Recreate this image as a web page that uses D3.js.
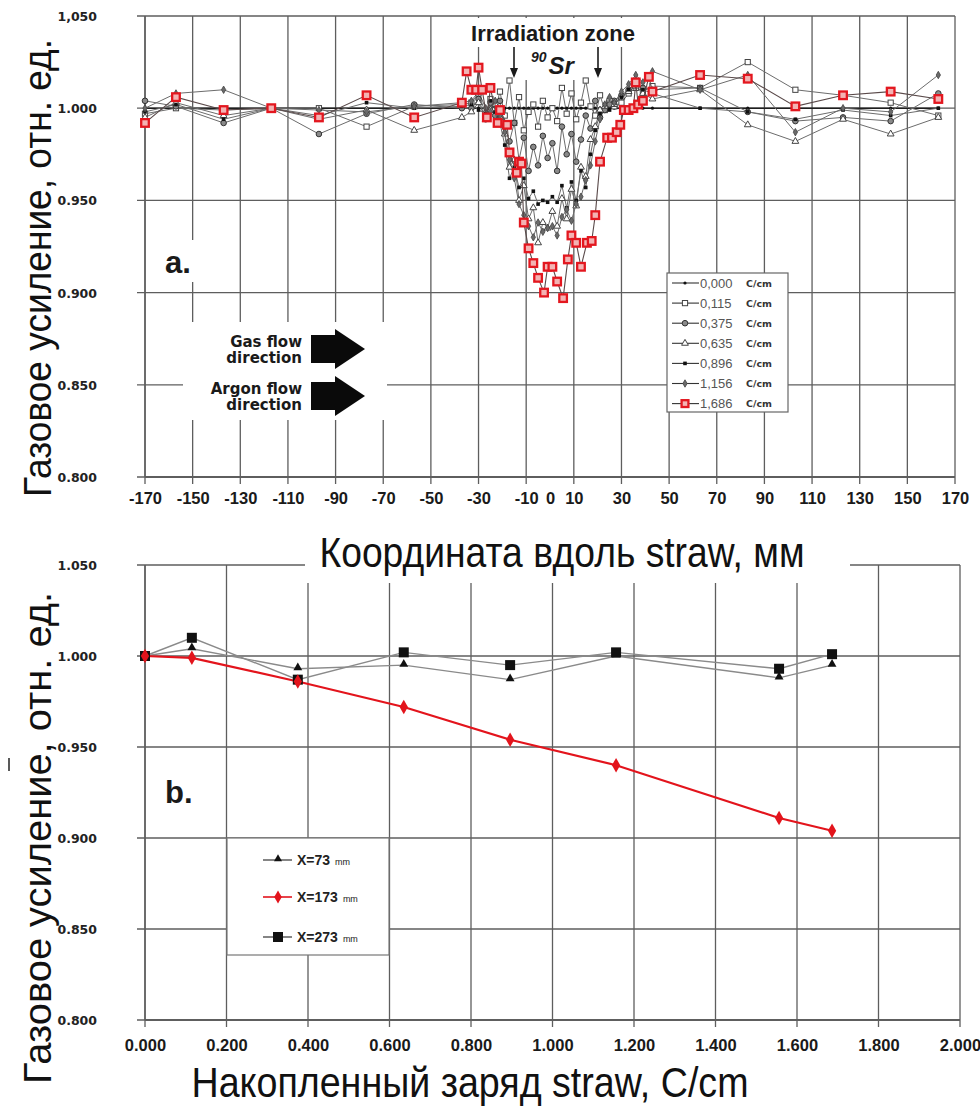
<!DOCTYPE html>
<html>
<head>
<meta charset="utf-8">
<script src="https://cdn.jsdelivr.net/npm/d3@7"></script>
<style>
  body { margin: 0; background: #fff; }
  svg { display: block; }
</style>
</head>
<body>
<svg id="chart" width="980" height="1110"></svg>
<script>
// ---------- Panel a: gain profile along the straw ----------
const posTicks  = [-170,-150,-130,-110,-90,-70,-50,-30,-10,0,10,30,50,70,90,110,130,150,170];
const posLabels = ["-170","-150","-130","-110","-90","-70","-50","-30","-10","0","10","30","50","70","90","110","130","150","170"];
const posGrid   = [-170,-150,-130,-110,-90,-70,-50,-30,-10,10,30,50,70,90,110,130,150,170];
const gainTicks   = [0.800,0.850,0.900,0.950,1.000,1.050];
const gainLabelsA = ["0.800","0.850","0.900","0.950","1.000","1,050"];
const gainLabelsB = ["0.800","0.850","0.900","0.950","1.000","1.050"];

// Accumulated charge for each scan, C/cm
const chargeLabels = ["0,000","0,115","0,375","0,635","0,896","1,156","1,686"];

// Scan positions (mm) for the scans at 0.000 ... 1.156 C/cm
const posGray = [-170,-157,-137,-117,-97,-77,-57,-37,
  -33,-30,-27,-25,-23,-21,-19,-17,-15,-13,-11,-9,-7,-5,-3,-1,1,3,5,7,9,11,13,15,17,19,21,23,25,27,30,33,36,39,
  43,63,83,103,123,143,163];

const gain000 = [1.000,1.000,1.000,1.000,1.000,1.000,1.000,1.000,
  1.000,1.000,1.000,1.000,1.000,1.000,1.000,1.000,1.000,1.000,1.000,1.000,1.000,1.000,1.000,1.000,1.000,1.000,1.000,1.000,1.000,1.000,1.000,1.000,1.000,1.000,1.000,1.000,1.000,1.000,1.000,1.000,1.000,1.000,
  1.000,1.000,1.000,1.000,1.000,1.000,1.000];
const gain115 = [0.997,1.000,0.999,1.000,1.000,0.990,1.001,1.002,
  1.003,1.008,0.997,1.005,0.999,1.009,0.996,1.015,0.992,1.006,0.988,0.998,1.002,0.990,1.004,0.995,1.000,0.993,1.011,0.997,1.008,0.994,1.003,1.015,1.001,0.996,1.007,0.999,1.004,1.001,1.003,1.008,1.011,1.009,
  1.012,1.011,1.025,1.010,1.007,1.003,0.996];
const gain375 = [1.004,1.001,0.992,1.000,0.986,0.997,1.002,1.000,
  1.000,1.005,0.994,1.003,0.996,1.004,0.990,0.982,0.992,0.972,0.984,0.966,0.979,0.969,0.985,0.973,0.981,0.966,0.990,0.975,0.986,0.971,0.983,0.996,0.989,1.004,0.995,0.999,1.002,1.004,1.007,1.010,1.013,1.011,
  1.010,1.011,0.998,0.993,0.995,0.993,1.008];
const gain635 = [0.995,1.003,0.996,1.000,0.994,0.999,0.988,0.995,
  0.998,1.003,0.994,0.999,1.002,0.995,0.986,0.968,0.972,0.950,0.958,0.940,0.946,0.927,0.938,0.935,0.944,0.936,0.951,0.940,0.956,0.947,0.968,0.963,0.983,0.990,0.999,1.001,1.005,1.002,1.006,1.009,1.012,1.008,
  1.005,1.010,0.991,0.982,0.994,0.986,0.995];
const gain896 = [0.998,1.002,0.994,1.000,0.996,1.003,1.000,1.001,
  1.002,0.999,0.997,1.004,0.998,0.992,0.980,0.962,0.968,0.957,0.962,0.951,0.955,0.948,0.950,0.949,0.952,0.949,0.958,0.946,0.960,0.950,0.966,0.957,0.975,0.988,0.997,1.002,0.999,1.003,1.006,1.010,1.014,1.010,
  1.008,1.000,0.998,0.994,0.999,0.996,1.000];
const gain1156 = [1.000,1.008,1.010,1.000,0.999,0.998,1.001,1.003,
  1.004,1.009,1.000,0.998,1.004,0.996,0.987,0.972,0.962,0.948,0.942,0.936,0.930,0.938,0.933,0.935,0.936,0.931,0.941,0.945,0.939,0.948,0.952,0.961,0.969,0.982,0.994,1.002,1.006,1.003,1.009,1.013,1.018,1.014,
  1.020,1.010,1.018,0.987,1.000,0.998,1.018];

// Scan positions (mm) and gain for the scan at 1.686 C/cm
const posRed = [-170,-157,-137,-117,-97,-77,-57,-37,
  -35,-33,-31,-30,-28.5,-26.5,-25,-22,-21,-18,-17,-14,-13,-12,-11,-9,-7,-5,-2.5,-1,1,3,5.5,7.5,9,11,13,15.5,17.5,19,21,24,26,28,29.5,31,33,35,36,37,39,41.5,
  43,63,83,103,123,143,163];
const gain1686 = [0.992,1.006,0.999,1.000,0.995,1.007,0.995,1.003,
  1.020,1.010,1.010,1.022,1.010,0.995,1.011,0.992,0.999,0.991,0.976,0.965,0.971,0.970,0.938,0.924,0.916,0.908,0.900,0.914,0.914,0.906,0.897,0.918,0.931,0.927,0.914,0.927,0.928,0.942,0.971,0.984,0.984,0.987,0.991,0.999,0.999,1.000,1.014,1.002,1.004,1.017,
  1.009,1.018,1.016,1.001,1.007,1.009,1.005];

// ---------- Panel b: gain vs accumulated charge ----------
const chargeTicks  = [0,0.2,0.4,0.6,0.8,1.0,1.2,1.4,1.6,1.8,2.0];
const chargeTickLabels = ["0.000","0.200","0.400","0.600","0.800","1.000","1.200","1.400","1.600","1.800","2.000"];
const charge = [0, 0.115, 0.375, 0.635, 0.896, 1.156, 1.556, 1.686];
const gainX73  = [1.000, 1.004, 0.993, 0.995, 0.987, 1.000, 0.988, 0.995];
const gainX173 = [1.000, 0.999, 0.986, 0.972, 0.954, 0.940, 0.911, 0.904];
const gainX273 = [1.000, 1.010, 0.987, 1.002, 0.995, 1.002, 0.993, 1.001];
const pointLabels = ["X=73", "X=173", "X=273"];

// ---------- drawing ----------
const svg = d3.select("#chart");
const SANS = "'Liberation Sans', Arial, Helvetica, sans-serif";
const NARROW = "'Liberation Sans Narrow', 'Arial Narrow', 'Liberation Sans', Arial, sans-serif";
const WIDE = "'DejaVu Sans', Verdana, sans-serif";
const GRID = "#5e5e5e";

const xA = d3.scaleLinear().domain([-170, 170]).range([145, 955]);
const yA = d3.scaleLinear().domain([0.8, 1.05]).range([477, 16]);
const xB = d3.scaleLinear().domain([0, 2]).range([145, 960]);
const yB = d3.scaleLinear().domain([0.8, 1.05]).range([1020, 565]);

function drawGrid(g, x, y, xs, ys, x0, x1) {
  g.append("g").selectAll("line").data(xs).join("line")
    .attr("x1", d => x(d)).attr("x2", d => x(d))
    .attr("y1", y(1.05)).attr("y2", y(0.8) + 7)
    .attr("stroke", GRID).attr("stroke-width", 1.3);
  g.append("g").selectAll("line").data(ys).join("line")
    .attr("x1", x(x0) - 8).attr("x2", x(x1))
    .attr("y1", d => y(d)).attr("y2", d => y(d))
    .attr("stroke", GRID).attr("stroke-width", 1.3);
  g.append("line").attr("x1", x(x0)).attr("x2", x(x0))
    .attr("y1", y(1.05)).attr("y2", y(0.8))
    .attr("stroke", GRID).attr("stroke-width", 1.5);
  g.append("line").attr("x1", x(x0)).attr("x2", x(x1))
    .attr("y1", y(0.8)).attr("y2", y(0.8))
    .attr("stroke", GRID).attr("stroke-width", 2);
}

function yAxis(g, y, labels) {
  const ax = g.append("g").attr("transform", "translate(145,0)")
    .call(d3.axisLeft(y).tickValues(gainTicks).tickFormat((d, i) => labels[i]).tickSize(0).tickPadding(48));
  ax.select(".domain").remove();
  ax.selectAll("text").style("font-family", WIDE).style("font-weight", "bold")
    .style("font-size", "12.5px").attr("fill", "#222").attr("dy", "0.36em");
}

// ===== Panel a =====
const gA = svg.append("g");
drawGrid(gA, xA, yA, posGrid, gainTicks, -170, 170);

// white backgrounds of the annotation boxes
gA.append("rect").attr("x", 455).attr("y", 18).attr("width", 200).attr("height", 29).attr("fill", "#fff");
gA.append("rect").attr("x", 500).attr("y", 40).attr("width", 104).attr("height", 40).attr("fill", "#fff");
gA.append("rect").attr("x", 183).attr("y", 322).attr("width", 204).attr("height", 98).attr("fill", "#fff");
gA.append("rect").attr("x", 163).attr("y", 240).attr("width", 52).attr("height", 42).attr("fill", "#fff");

yAxis(gA, yA, gainLabelsA);
const axA = gA.append("g").attr("transform", "translate(0,477)")
  .call(d3.axisBottom(xA).tickValues(posTicks).tickFormat((d, i) => posLabels[i]).tickSize(0).tickPadding(15));
axA.select(".domain").remove();
axA.selectAll("text").style("font-family", SANS).style("font-weight", "bold")
  .style("font-size", "16.5px").attr("fill", "#1a1a1a");

// scans
const grayScans = [
  { v: gain000,  sym: "dot" },
  { v: gain115,  sym: "osquare" },
  { v: gain375,  sym: "circle" },
  { v: gain635,  sym: "triangle" },
  { v: gain896,  sym: "bsquare" },
  { v: gain1156, sym: "diamond" }
];

function marker(sel, sym, size) {
  const s = size || 1;
  if (sym === "dot") {
    sel.append("circle").attr("r", 1.6 * s).attr("fill", "#111");
  } else if (sym === "osquare") {
    sel.append("rect").attr("x", -2.6 * s).attr("y", -2.6 * s).attr("width", 5.2 * s).attr("height", 5.2 * s)
      .attr("fill", "#fff").attr("stroke", "#444").attr("stroke-width", 1);
  } else if (sym === "circle") {
    sel.append("circle").attr("r", 2.8 * s).attr("fill", "#8a8a8a").attr("stroke", "#333").attr("stroke-width", 1);
  } else if (sym === "triangle") {
    sel.append("path").attr("d", d3.symbol(d3.symbolTriangle, 20 * s * s)).attr("fill", "#fff")
      .attr("stroke", "#444").attr("stroke-width", 1);
  } else if (sym === "bsquare") {
    sel.append("rect").attr("x", -1.8 * s).attr("y", -1.8 * s).attr("width", 3.6 * s).attr("height", 3.6 * s).attr("fill", "#111");
  } else if (sym === "diamond") {
    sel.append("path").attr("d", d3.symbol(d3.symbolDiamond, 16 * s * s)).attr("fill", "#6a6a6a")
      .attr("stroke", "#444").attr("stroke-width", 0.8);
  } else if (sym === "red") {
    sel.append("rect").attr("x", -3.8 * s).attr("y", -3.8 * s).attr("width", 7.6 * s).attr("height", 7.6 * s)
      .attr("fill", "#f3b3b3").attr("stroke", "#e3171f").attr("stroke-width", 2.3);
  }
}

const lineA = (xs) => d3.line().x((d, i) => xA(xs[i])).y(d => yA(d));

grayScans.forEach((s, k) => {
  gA.append("path").datum(s.v).attr("d", lineA(posGray))
    .attr("fill", "none").attr("stroke", k === 0 ? "#1e1e1e" : "#6c6c6c")
    .attr("stroke-width", k === 0 ? 1.4 : 1);
});
grayScans.forEach(s => {
  const m = gA.append("g").selectAll("g").data(s.v).join("g")
    .attr("transform", (d, i) => `translate(${xA(posGray[i])},${yA(d)})`);
  marker(m, s.sym);
});
gA.append("path").datum(gain1686).attr("d", lineA(posRed))
  .attr("fill", "none").attr("stroke", "#5a4a4a").attr("stroke-width", 1.1);
marker(gA.append("g").selectAll("g").data(gain1686).join("g")
  .attr("transform", (d, i) => `translate(${xA(posRed[i])},${yA(d)})`), "red");

// legend of panel a
const legA = gA.append("g");
legA.append("rect").attr("x", 667).attr("y", 273).attr("width", 121).attr("height", 139)
  .attr("fill", "#fff").attr("stroke", "#666").attr("stroke-width", 1.2);
const legSyms = ["dot", "osquare", "circle", "triangle", "bsquare", "diamond", "red"];
chargeLabels.forEach((lab, i) => {
  const yy = 283 + i * 20.1;
  legA.append("line").attr("x1", 672).attr("x2", 699).attr("y1", yy).attr("y2", yy)
    .attr("stroke", "#333").attr("stroke-width", 1.1);
  marker(legA.append("g").attr("transform", `translate(685,${yy})`), legSyms[i], i === 6 ? 0.9 : 1);
  legA.append("text").attr("x", 700).attr("y", yy + 4.5).text(lab)
    .style("font-family", NARROW).style("font-size", "13px").attr("fill", "#555");
  legA.append("text").attr("x", 746).attr("y", yy + 3.5).text("C/cm")
    .style("font-family", WIDE).style("font-weight", "bold").style("font-size", "9.5px").attr("fill", "#333");
});

// irradiation zone annotation
gA.append("text").attr("x", 553).attr("y", 41).attr("text-anchor", "middle").text("Irradiation zone")
  .style("font-family", SANS).style("font-weight", "bold").style("font-size", "22px").attr("fill", "#1a1a1a");
[514, 598].forEach(ax => {
  gA.append("line").attr("x1", ax).attr("x2", ax).attr("y1", 47).attr("y2", 74)
    .attr("stroke", "#1a1a1a").attr("stroke-width", 1.6);
  gA.append("path").attr("d", `M${ax - 4},${68} L${ax},${78} L${ax + 4},${68} Z`).attr("fill", "#1a1a1a");
});
const sr = gA.append("text").attr("x", 531).attr("y", 74)
  .style("font-family", SANS).style("font-weight", "bold").style("font-style", "italic").attr("fill", "#1a1a1a");
sr.append("tspan").attr("dy", -12).style("font-size", "14px").text("90");
sr.append("tspan").attr("dy", 12).attr("dx", 2).style("font-size", "24px").text("Sr");

gA.append("text").attr("x", 165).attr("y", 273).text("a.")
  .style("font-family", SANS).style("font-weight", "bold").style("font-size", "31px").attr("fill", "#1a1a1a");

// flow direction notes
const flow = gA.append("g").style("font-family", WIDE).style("font-weight", "bold").style("font-size", "15px").attr("fill", "#1a1a1a");
[["Gas flow", "direction", 349], ["Argon flow", "direction", 396]].forEach(([a, b, cy]) => {
  flow.append("text").attr("x", 302).attr("y", cy - 2).attr("text-anchor", "end").text(a);
  flow.append("text").attr("x", 302).attr("y", cy + 14).attr("text-anchor", "end").text(b);
  flow.append("path")
    .attr("d", `M311,${cy - 14} L335,${cy - 14} L335,${cy - 20} L365,${cy} L335,${cy + 20} L335,${cy + 14} L311,${cy + 14} Z`)
    .attr("fill", "#0a0a0a");
});

// ===== Panel b =====
const gB = svg.append("g");
drawGrid(gB, xB, yB, chargeTicks, gainTicks, 0, 2);
gB.append("rect").attr("x", 305).attr("y", 527).attr("width", 545).attr("height", 56).attr("fill", "#fff");
yAxis(gB, yB, gainLabelsB);
const axB = gB.append("g").attr("transform", "translate(0,1020)")
  .call(d3.axisBottom(xB).tickValues(chargeTicks).tickFormat((d, i) => chargeTickLabels[i]).tickSize(0).tickPadding(19));
axB.select(".domain").remove();
axB.selectAll("text").style("font-family", NARROW).style("font-weight", "bold")
  .style("font-size", "16.5px").attr("fill", "#1a1a1a");

const lineB = d3.line().x((d, i) => xB(charge[i])).y(d => yB(d));
gB.append("path").datum(gainX73).attr("d", lineB).attr("fill", "none").attr("stroke", "#8a8a8a").attr("stroke-width", 1.4);
gB.append("path").datum(gainX273).attr("d", lineB).attr("fill", "none").attr("stroke", "#8a8a8a").attr("stroke-width", 1.4);
gB.append("path").datum(gainX173).attr("d", lineB).attr("fill", "none").attr("stroke", "#e3141c").attr("stroke-width", 2.2);

gB.append("g").selectAll("path").data(gainX73).join("path")
  .attr("transform", (d, i) => `translate(${xB(charge[i])},${yB(d) - 1})`)
  .attr("d", d3.symbol(d3.symbolTriangle, 34)).attr("fill", "#111");
gB.append("g").selectAll("rect").data(gainX273).join("rect")
  .attr("x", (d, i) => xB(charge[i]) - 5).attr("y", d => yB(d) - 5)
  .attr("width", 10).attr("height", 10).attr("fill", "#111");
gB.append("g").selectAll("path").data(gainX173).join("path")
  .attr("transform", (d, i) => `translate(${xB(charge[i])},${yB(d)})`)
  .attr("d", d3.symbol(d3.symbolDiamond, 60)).attr("fill", "#e3141c");

// legend of panel b
const legB = gB.append("g");
legB.append("rect").attr("x", 227).attr("y", 838).attr("width", 162).attr("height", 117)
  .attr("fill", "#fff").attr("stroke", "#777").attr("stroke-width", 1.2);
const legBY = [860, 897, 937];
pointLabels.forEach((lab, i) => {
  const yy = legBY[i];
  legB.append("line").attr("x1", 263).attr("x2", 292).attr("y1", yy).attr("y2", yy)
    .attr("stroke", i === 1 ? "#e3141c" : "#333").attr("stroke-width", i === 1 ? 1.6 : 1.2);
  if (i === 0) legB.append("path").attr("transform", `translate(278,${yy - 1})`).attr("d", d3.symbol(d3.symbolTriangle, 28)).attr("fill", "#111");
  if (i === 1) legB.append("path").attr("transform", `translate(278,${yy})`).attr("d", d3.symbol(d3.symbolDiamond, 50)).attr("fill", "#e3141c");
  if (i === 2) legB.append("rect").attr("x", 273).attr("y", yy - 5).attr("width", 10).attr("height", 10).attr("fill", "#111");
  const t = legB.append("text").attr("x", 297).attr("y", yy + 5).style("font-family", SANS).attr("fill", "#222");
  t.append("tspan").style("font-weight", "bold").style("font-size", "14px").text(lab);
  t.append("tspan").attr("dx", 5).style("font-size", "9px").text("mm");
});

gB.append("text").attr("x", 165).attr("y", 803).text("b.")
  .style("font-family", SANS).style("font-weight", "bold").style("font-size", "31px").attr("fill", "#1a1a1a");

// ===== axis titles =====
const titles = svg.append("g").style("font-family", NARROW).attr("fill", "#111");
titles.append("text").attr("x", 562).attr("y", 567).attr("text-anchor", "middle")
  .attr("textLength", 485).attr("lengthAdjust", "spacingAndGlyphs")
  .style("font-size", "42px").text("Координата вдоль straw, мм");
titles.append("text").attr("x", 470).attr("y", 1097).attr("text-anchor", "middle")
  .attr("textLength", 557).attr("lengthAdjust", "spacingAndGlyphs")
  .style("font-size", "42px").text("Накопленный заряд straw, C/cm");
titles.append("text").attr("transform", "translate(51,268) rotate(-90)").attr("text-anchor", "middle")
  .attr("textLength", 458).attr("lengthAdjust", "spacingAndGlyphs")
  .style("font-size", "39px").text("Газовое усиление, отн. ед.");
titles.append("text").attr("transform", "translate(51,838) rotate(-90)").attr("text-anchor", "middle")
  .attr("textLength", 492).attr("lengthAdjust", "spacingAndGlyphs")
  .style("font-size", "39px").text("Газовое усиление, отн. ед.");
svg.append("line").attr("x1", 9).attr("x2", 9).attr("y1", 758).attr("y2", 771)
  .attr("stroke", "#222").attr("stroke-width", 1.5);
</script>
</body>
</html>
